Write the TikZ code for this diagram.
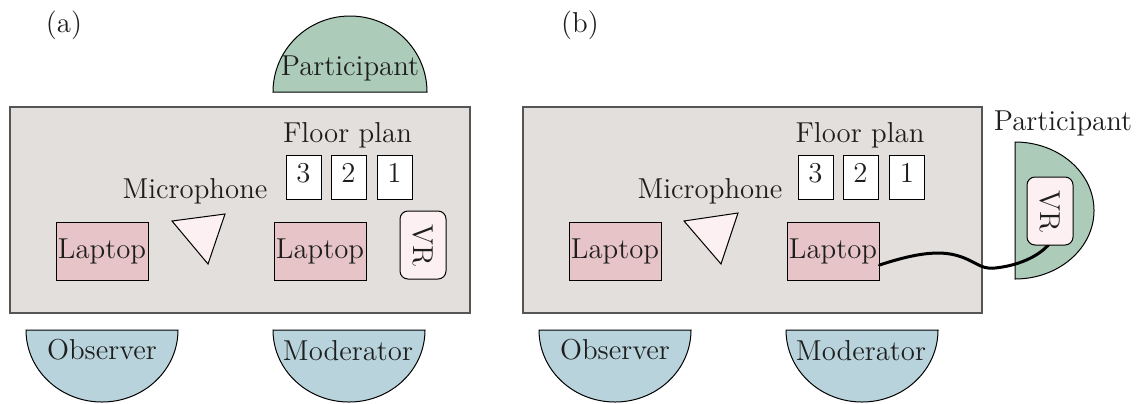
\documentclass[tikz,border=0pt]{standalone}
\usetikzlibrary{calc}
\definecolor{roomfill}{HTML}{E2DFDC}
\definecolor{roomline}{HTML}{555555}
\definecolor{partfill}{HTML}{ADCBB9}
\definecolor{seatfill}{HTML}{B9D3DC}
\definecolor{laptopfill}{HTML}{E6C4C7}
\definecolor{devfill}{HTML}{FDF0F2}
\definecolor{ink}{HTML}{1E1E1E}
\begin{document}
\begin{tikzpicture}[x=0.5pt,y=-0.5pt,
  font=\fontsize{14.4}{17}\selectfont, text=ink,
  room/.style={fill=roomfill,draw=roomline,line width=1pt},
  laptop/.style={draw,fill=laptopfill,line width=0.5pt,minimum width=46pt,minimum height=29pt,inner sep=0pt},
  headset/.style={draw,fill=devfill,rounded corners=4pt,line width=0.5pt,minimum width=34pt,minimum height=23pt,inner sep=0pt,rotate=-90},
  planbox/.style={draw,fill=white,line width=0.5pt,minimum width=17.5pt,minimum height=22pt,inner sep=0pt,text height=10pt,text depth=5pt},
  mic/.style={draw,fill=devfill,line width=0.5pt},
  seat/.style={draw,fill=seatfill,line width=0.5pt},
  chair/.style={draw,fill=partfill,line width=0.5pt},
  cable/.style={line width=1.5pt,line cap=round},
  lbl/.style={anchor=base,inner sep=0pt}]
\useasboundingbox (0,0) rectangle (1143,403);

% ---------------- (a) ----------------
\node[lbl] (tagA) at (64,32) {(a)};
% participant seat behind the table
\path[chair] (273,92) arc[start angle=180,end angle=360,x radius=77,y radius=76] -- cycle;
\node[lbl] (partA) at (350,75) {Participant};
% table
\path[room] (10,107) rectangle (470,313);
\node[lbl] (planA) at (347.5,142) {Floor plan};
\node[planbox] (p3A) at (303.5,177) {3};
\node[planbox] (p2A) at (348.5,177) {2};
\node[planbox] (p1A) at (394.5,177) {1};
\node[lbl] (micA) at (195,198) {Microphone};
\path[mic] (172,221) -- (225,214) -- (208,264) -- cycle;
\node[laptop] (lapA1) at (102,251) {Laptop};
\node[laptop] (lapA2) at (320,251) {Laptop};
\node[headset] (vrA) at (423,245) {VR};
% seats in front of the table
\path[seat] (26,330) arc[start angle=180,end angle=0,x radius=76,y radius=72] -- cycle;
\node[lbl] (obsA) at (102,359) {Observer};
\path[seat] (273,330) arc[start angle=180,end angle=0,x radius=76,y radius=72] -- cycle;
\node[lbl] (modA) at (348,360) {Moderator};

% ---------------- (b) ----------------
\node[lbl] (tagB) at (580,32) {(b)};
\path[room] (523,107) rectangle (982,313);
\node[lbl] (planB) at (860,142) {Floor plan};
\node[planbox] (p3B) at (815.5,177) {3};
\node[planbox] (p2B) at (860.5,177) {2};
\node[planbox] (p1B) at (907,177) {1};
\node[lbl] (micB) at (710,198) {Microphone};
\path[mic] (684,221) -- (738,213) -- (721,264) -- cycle;
\node[laptop] (lapB1) at (615,251) {Laptop};
\node[laptop] (lapB2) at (833,251) {Laptop};
% participant seated beside the table, wearing the headset
\path[chair] (1015,142) arc[start angle=-90,end angle=90,x radius=79,y radius=68.5] -- cycle;
\node[lbl] (partB) at (1063,130) {Participant};
% headset cable, running under the headset
\coordinate (plugB) at (1050,243);
\draw[cable] ([yshift=-7pt]lapB2.east)
  .. controls (910,255) and (935,250) .. (955,255)
  .. controls (975,260) and (980,270) .. (995,268)
  .. controls (1015,266) and (1038,258) .. (plugB);
\node[headset] (vrB) at (1050,211) {VR};
\path[seat] (539,330) arc[start angle=180,end angle=0,x radius=76,y radius=72] -- cycle;
\node[lbl] (obsB) at (615,359) {Observer};
\path[seat] (786,330) arc[start angle=180,end angle=0,x radius=76,y radius=72] -- cycle;
\node[lbl] (modB) at (861,360) {Moderator};
\end{tikzpicture}
\end{document}
